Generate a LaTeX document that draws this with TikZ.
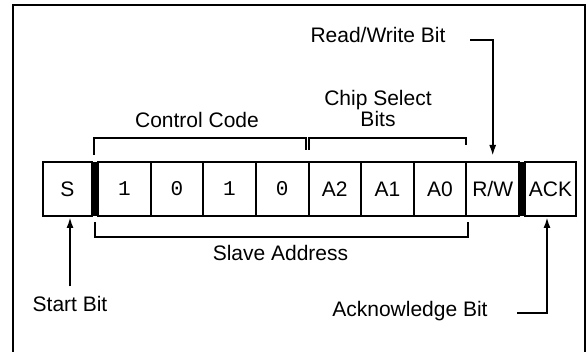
\documentclass[tikz,border=0pt]{standalone}
\usepackage{fontspec}
\setmainfont{Liberation Sans}
\setmonofont{Liberation Mono}
\usetikzlibrary{arrows.meta}

\begin{document}
\begin{tikzpicture}[x=1pt,y=-1pt,line width=2pt,
	font=\fontsize{21}{18}\selectfont,
	cell/.style={shape=rectangle,draw=black,minimum height=54pt,inner sep=0pt},
	bitbar/.style={shape=rectangle,fill=black,minimum width=4.5pt,minimum height=54pt,inner sep=0pt},
	lbl/.style={anchor=base,inner sep=0pt},
	arr/.style={-{Latex[length=11pt,width=7pt]}}]
	\useasboundingbox (0,0) rectangle (587,352);
	\draw (13,352) -- (13,5) -- (585,5) -- (585,352);

	% register cells
	\node[cell,minimum width=49pt]   (s)    at (67.5,189)  {S};
	\node[bitbar]                    (sbar) at (95,189)    {};
	\node[cell,minimum width=52.6pt] (c1)   at (124.3,189) {\texttt{1}};
	\node[cell,minimum width=52.6pt] (c2)   at (176.9,189) {\texttt{0}};
	\node[cell,minimum width=52.6pt] (c3)   at (229.5,189) {\texttt{1}};
	\node[cell,minimum width=52.6pt] (c4)   at (282.2,189) {\texttt{0}};
	\node[cell,minimum width=52.6pt] (a2)   at (334.8,189) {A2};
	\node[cell,minimum width=52.6pt] (a1)   at (387.4,189) {A1};
	\node[cell,minimum width=52.6pt] (a0)   at (440.0,189) {A0};
	\node[cell,minimum width=52.6pt] (rw)   at (492.7,189) {R/W};
	\node[bitbar]                    (rbar) at (522,189)   {};
	\node[cell,minimum width=51pt]   (ack)  at (550.5,189) {ACK};

	% brackets
	\draw (94,155) -- (94,138) -- (305.5,138) -- (305.5,150);
	\draw (309,150) -- (309,138) -- (466,138) -- (466,145);
	\draw (95,222) -- (95,237) -- (468,237) -- (468,222);

	% labels
	\node[lbl] (ctrl)  at (197,127.7) {Control Code};
	\node[inner sep=0pt,align=center] (chip) at (378,108.5) {Chip Select\\Bits};
	\node[lbl] (rwtext)    at (378,43)    {Read/Write Bit};
	\node[lbl] (slave)     at (280.5,260.7) {Slave Address};
	\node[lbl] (starttext) at (70,311.7)  {Start Bit};
	\node[lbl] (acktext)   at (410,316.7) {Acknowledge Bit};

	% arrows
	\coordinate (rwcorner)  at (470,40);
	\coordinate (ackcorner) at (517,312.7);
	\draw[arr] ([yshift=9pt]starttext.north) -- (starttext.north |- s.south);
	\draw[arr] (rwcorner) -| ([yshift=5pt]rw.north);
	\draw[arr] (ackcorner) -| ([xshift=-3.5pt]ack.south);
\end{tikzpicture}
\end{document}
